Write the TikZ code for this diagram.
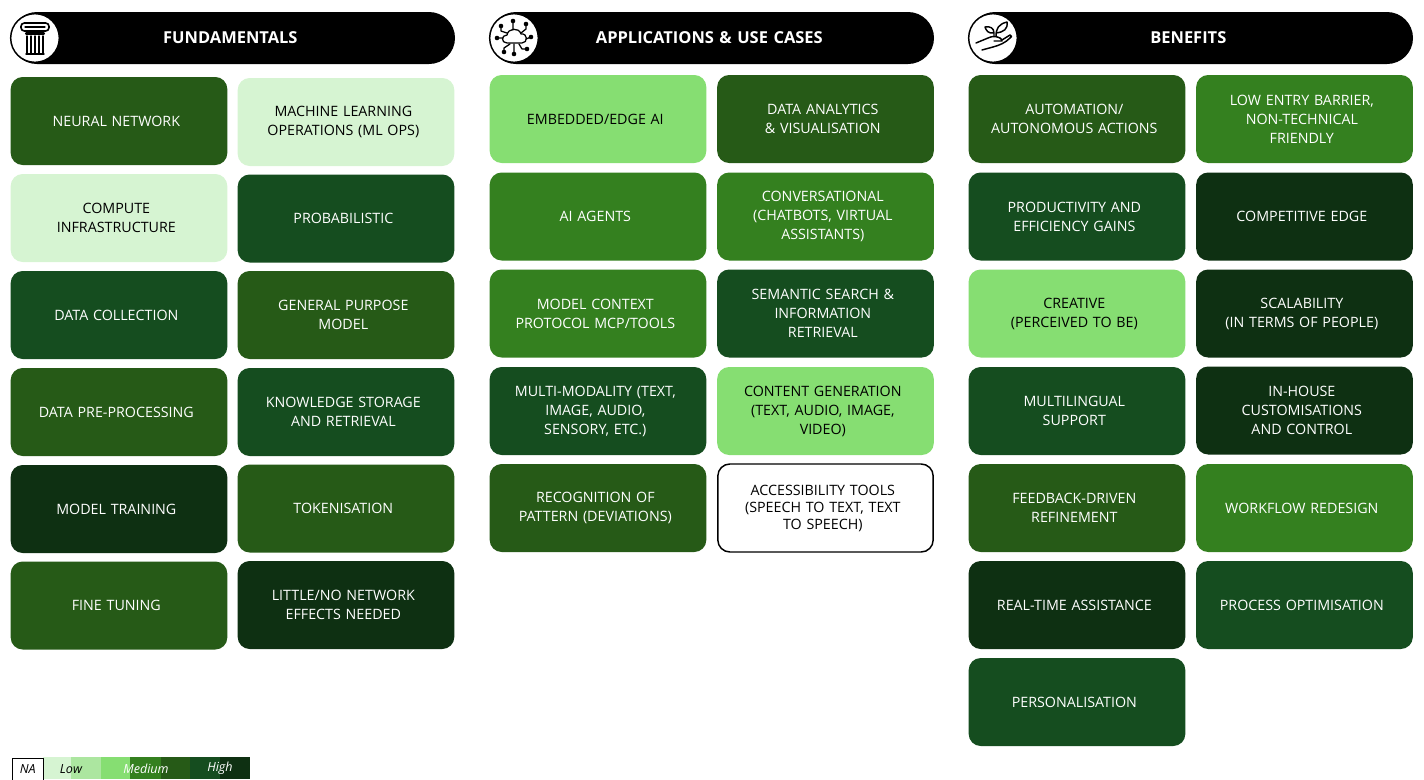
\documentclass[tikz,border=0pt]{standalone}
\usepackage{fontspec}
\setmainfont{Open Sans}
\definecolor{lvlone}{HTML}{D6F4D2}
\definecolor{lvltwo}{HTML}{ACE6A0}
\definecolor{lvlthree}{HTML}{86DE72}
\definecolor{lvlfour}{HTML}{34801F}
\definecolor{lvlfive}{HTML}{265A17}
\definecolor{lvlsix}{HTML}{154D1F}
\definecolor{lvlseven}{HTML}{0E3012}
\tikzset{
  tile/.style={rounded corners=9pt,text width=162.5pt,minimum height=66pt,inner sep=0pt,align=center,text=white,
    font=\fontsize{10.7}{14.25}\selectfont,
    execute at begin node={\advance\rightskip by 4pt},
    execute at end node={\par\vskip-2.4pt}},
  lone/.style={tile,fill=lvlone,text=black},
  lthree/.style={tile,fill=lvlthree,text=black},
  lfour/.style={tile,fill=lvlfour},
  lfive/.style={tile,fill=lvlfive},
  lsix/.style={tile,fill=lvlsix},
  lseven/.style={tile,fill=lvlseven},
  lnone/.style={tile,fill=white,draw=black,line width=1.1pt,text=black},
  banner/.style={fill=black,rounded corners=19.5pt,text width=333pt,minimum height=39pt,inner sep=0pt,align=center,text=white,
    font=\fontsize{12.35}{14}\selectfont\bfseries,
    execute at begin node={\advance\rightskip by 4pt},
    execute at end node={\par\vskip-2.4pt}},
  badge/.style={circle,fill=white,draw=black,line width=1.1pt,minimum size=36.5pt,inner sep=0pt},
  icon/.style={line width=0.95pt,line cap=round,line join=round},
  swatch/.style={minimum height=16.5pt,inner sep=0pt,anchor=north west},
  key/.style={inner sep=0pt,font=\fontsize{9.4}{11}\selectfont\itshape}
}
\begin{document}
\begin{tikzpicture}[x=0.75pt,y=-0.75pt]
  \useasboundingbox (0,0) rectangle (1424,779);
  % banners
  \node[banner] (fund) at (233,38) {FUNDAMENTALS};
  \node[banner] (apps) at (712,38) {APPLICATIONS \& USE CASES};
  \node[banner] (bene) at (1191,38) {BENEFITS};
  \node[badge] (fundb) at (35,38) {};
  \node[badge] (appsb) at (514,38) {};
  \node[badge] (beneb) at (993,38) {};
  % pillar
  \draw[icon,line width=1.2pt,rounded corners=2.5pt] (21,23) rectangle (49,31);
  \draw[icon] (25,27) -- (45,27);
  \draw[icon,line width=1.6pt] (26,33.5) -- (44,33.5);
  \foreach \x in {27,31,35,39,43} \draw[icon,line width=1.1pt] (\x,36) -- (\x,53);
  \draw[icon,line width=1.1pt] (26,54) -- (44,54);
  % cloud
  \draw[icon] (507,43) .. controls (501,43) and (501,35) .. (507,35) .. controls (508,28) and (519,27) .. (521,34)
    .. controls (528,33) and (528,43) .. (522,43) -- cycle;
  \draw[icon] (513,22) -- (513,30) (514,44) -- (514,53)
    (507,33) -- (501,31) -- (501,26) (521,33) -- (526,29) -- (526,24)
    (526,39) -- (531,37) (503,38) -- (497,38) (510,44) -- (504,48) -- (504,52) (519,44) -- (522,49) -- (527,49);
  \fill (513,21) circle (2.3) (514,54) circle (2.3) (501,26) circle (2.3) (526,24) circle (2.3)
    (531,37) circle (2.3) (497,38) circle (2.3) (504,52) circle (2.3) (527,49) circle (2.3);
  % plant
  \draw[icon,line width=1.1pt] (976,43) -- (988,38) .. controls (992,36) and (996,36) .. (1000,38) -- (1002,40) -- (1010,35)
    .. controls (1012,36) and (1012,37) .. (1010,38) .. controls (1005,43) and (1000,45) .. (993,47) -- (982,50)
    (994,41) -- (1002,41);
  \draw[icon,line width=1.1pt] (994,36) -- (994,33) .. controls (988,34) and (986,30) .. (985,27) .. controls (990,26) and (994,28) .. (994,33)
    (996,36) .. controls (996,28) and (999,24) .. (1007,22) .. controls (1008,29) and (1004,32) .. (996,33);
  % fundamentals
  \node[lfive] (nn) at (119,121) {NEURAL NETWORK};
  \node[lone] (mlops) at (346,122) {MACHINE LEARNING\\OPERATIONS (ML OPS)};
  \node[lone] (compute) at (119,218) {COMPUTE\\INFRASTRUCTURE};
  \node[lsix] (prob) at (346,218.5) {PROBABILISTIC};
  \node[lsix] (collect) at (119,315) {DATA COLLECTION};
  \node[lfive] (general) at (346,315) {GENERAL PURPOSE\\MODEL};
  \node[lfive] (prep) at (119,412) {DATA PRE-PROCESSING};
  \node[lsix] (knowledge) at (346,412) {KNOWLEDGE STORAGE\\AND RETRIEVAL};
  \node[lseven] (training) at (119,509) {MODEL TRAINING};
  \node[lfive] (token) at (346,508.5) {TOKENISATION};
  \node[lfive] (tuning) at (119,605.5) {FINE TUNING};
  \node[lseven] (little) at (346,605) {LITTLE/NO NETWORK\\EFFECTS NEEDED};
  % applications
  \node[lthree] (edge) at (598,119) {EMBEDDED/EDGE AI};
  \node[lfive] (analytics) at (825.5,119) {DATA ANALYTICS\\\& VISUALISATION};
  \node[lfour] (agents) at (598,216.5) {AI AGENTS};
  \node[lfour] (conv) at (825.5,216.5) {CONVERSATIONAL\\(CHATBOTS, VIRTUAL\\ASSISTANTS)};
  \node[lfour] (mcp) at (598,313.5) {MODEL CONTEXT\\PROTOCOL MCP/TOOLS};
  \node[lsix] (semantic) at (825.5,313.5) {SEMANTIC SEARCH \&\\INFORMATION\\RETRIEVAL};
  \node[lsix] (multi) at (598,411) {MULTI-MODALITY (TEXT,\\IMAGE, AUDIO,\\SENSORY, ETC.)};
  \node[lthree] (content) at (825.5,411) {CONTENT GENERATION\\(TEXT, AUDIO, IMAGE,\\VIDEO)};
  \node[lfive] (pattern) at (598,508) {RECOGNITION OF\\PATTERN (DEVIATIONS)};
  \node[lnone,text width=161.5pt,font=\fontsize{10.7}{12.75}\selectfont] (access) at (825.5,508) {ACCESSIBILITY TOOLS\\(SPEECH TO TEXT, TEXT\\TO SPEECH)};
  % benefits
  \node[lfive] (auto) at (1077,119) {AUTOMATION/\\AUTONOMOUS ACTIONS};
  \node[lfour] (entry) at (1304.5,119) {LOW ENTRY BARRIER,\\NON-TECHNICAL\\FRIENDLY};
  \node[lsix] (gains) at (1077,216.5) {PRODUCTIVITY AND\\EFFICIENCY GAINS};
  \node[lseven] (edgec) at (1304.5,216.5) {COMPETITIVE EDGE};
  \node[lthree] (creative) at (1077,313.5) {CREATIVE\\(PERCEIVED TO BE)};
  \node[lseven] (scale) at (1304.5,313.5) {SCALABILITY\\(IN TERMS OF PEOPLE)};
  \node[lsix] (lingual) at (1077,411) {MULTILINGUAL\\SUPPORT};
  \node[lseven] (house) at (1304.5,410.5) {IN-HOUSE\\CUSTOMISATIONS\\AND CONTROL};
  \node[lfive] (feedback) at (1077,508) {FEEDBACK-DRIVEN\\REFINEMENT};
  \node[lfour] (workflow) at (1304.5,508) {WORKFLOW REDESIGN};
  \node[lseven] (realtime) at (1077,605) {REAL-TIME ASSISTANCE};
  \node[lsix] (process) at (1304.5,605) {PROCESS OPTIMISATION};
  \node[lsix] (personal) at (1077,702) {PERSONALISATION};
  % legend
  \node[swatch,fill=lvlone,minimum width=21pt] (sa) at (43,757) {};
  \node[swatch,fill=lvltwo,minimum width=23pt] (sb) at (71,757) {};
  \node[swatch,fill=lvlthree,minimum width=22pt] (sc) at (101,757) {};
  \node[swatch,fill=lvlfour,minimum width=23pt] (sd) at (130,757) {};
  \node[swatch,fill=lvlfive,minimum width=22pt] (se) at (161,757) {};
  \node[swatch,fill=lvlsix,minimum width=23pt] (sf) at (190,757) {};
  \node[swatch,fill=lvlseven,minimum width=22.5pt] (sg) at (220,757) {};
  \node[swatch,draw=black,line width=0.7pt,minimum width=23pt,minimum height=17pt,fill=white,font=\fontsize{9.4}{11}\selectfont\itshape] (sn) at (12,757.5) {NA};
  \node[key] (low) at (71,769) {Low};
  \node[key,text=white] (med) at (146,769) {Medium};
  \node[key,text=white] (high) at (220,768.5) {High};
\end{tikzpicture}
\end{document}
